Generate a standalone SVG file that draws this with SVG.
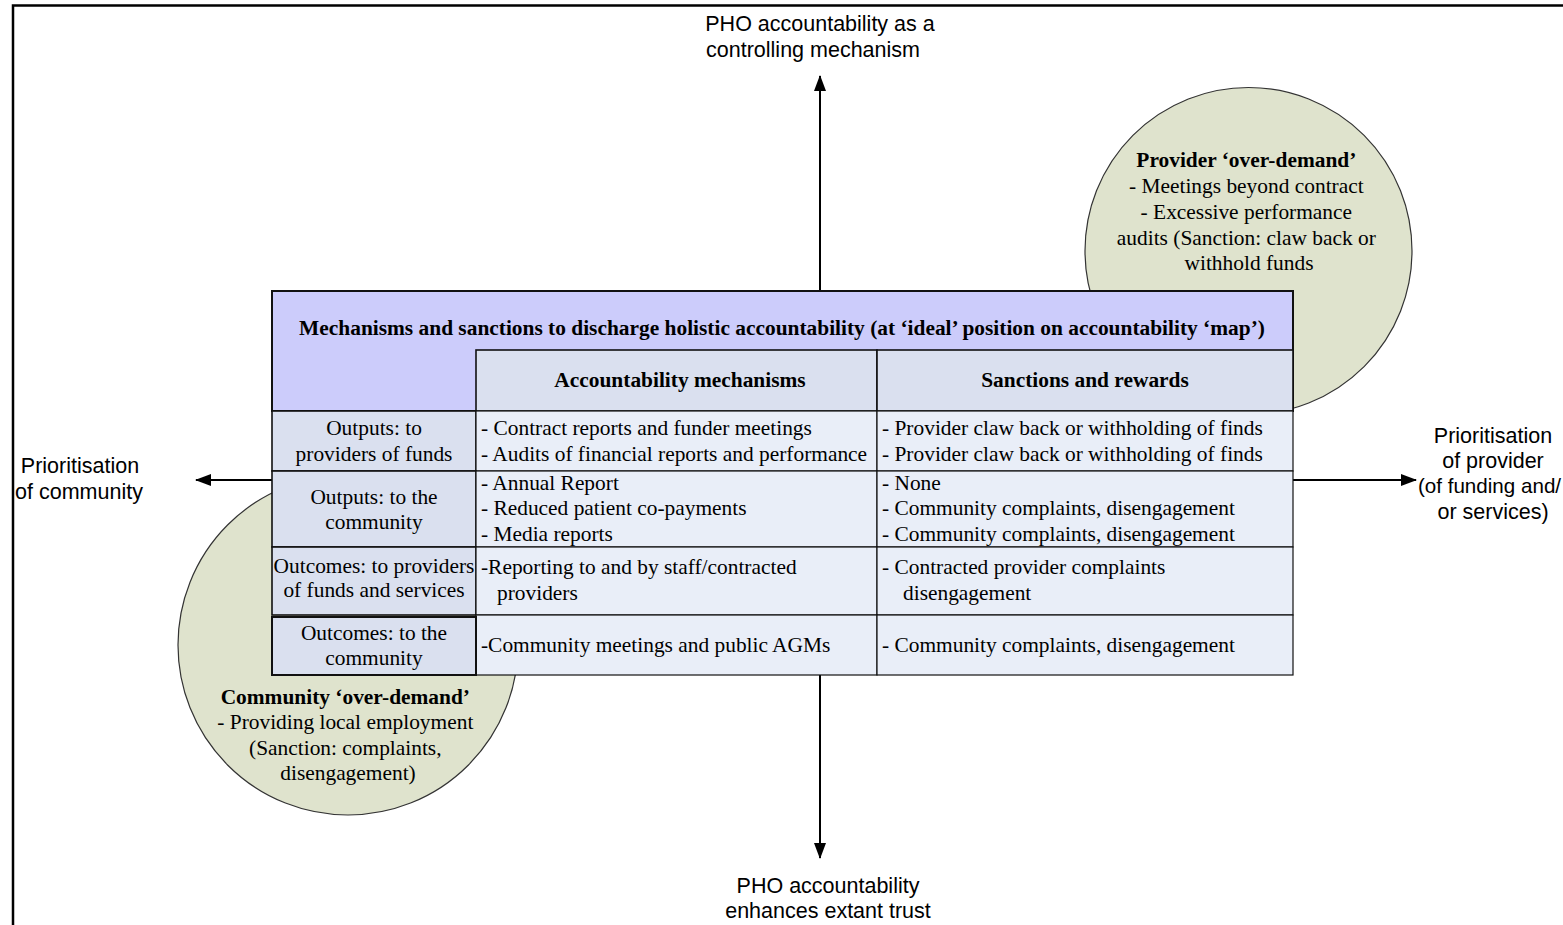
<svg xmlns="http://www.w3.org/2000/svg" width="1563" height="925" viewBox="0 0 1563 925">
  <defs>
    <marker id="arrow" viewBox="0 0 16 12" refX="15" refY="6" markerWidth="16" markerHeight="12" markerUnits="userSpaceOnUse" orient="auto">
      <path d="M0,0 L16,6 L0,12 Z" fill="#000"/>
    </marker>
    <style>
      .frame { fill: none; stroke: #000; stroke-width: 2.5; }
      .axis { fill: none; stroke: #000; stroke-width: 2; marker-end: url(#arrow); }
      .bubble { fill: #dfe3cd; stroke: #333; stroke-width: 1.2; }
      .title-cell { fill: #ccccfb; stroke: #111; stroke-width: 2; }
      .head-cell { fill: #dae0ef; stroke: #111; stroke-width: 1.6; }
      .data-cell { fill: #e9eef8; stroke: #111; stroke-width: 1.2; }
      .serif { font-family: "Liberation Serif", "Times New Roman", serif; font-size: 21.4px; fill: #000; }
      .bold { font-weight: bold; }
      .sans { font-family: "Liberation Sans", Arial, sans-serif; font-size: 21.5px; fill: #000; }
      .mid { text-anchor: middle; }
    </style>
  </defs>

  <rect width="1563" height="925" fill="#fff"/>
  <!-- outer frame, open to the right and bottom edges -->
  <path class="frame" d="M13,925 V5.5 H1563"/>

  <!-- axes of the accountability map -->
  <g id="connectors">
    <line class="axis" x1="820" y1="292" x2="820" y2="76"/>
    <line class="axis" x1="820" y1="675" x2="820" y2="858"/>
    <line class="axis" x1="272" y1="480" x2="196" y2="480"/>
    <line class="axis" x1="1293" y1="480" x2="1416" y2="480"/>
  </g>

  <g id="provider-over-demand">
    <circle class="bubble" cx="1248.5" cy="251" r="163.5"/>
    <text class="serif mid" x="1249">
      <tspan class="bold" x="1249" y="167">Provider ‘over-demand’</tspan>
      <tspan x="1249" y="193">- Meetings beyond contract</tspan>
      <tspan x="1249" y="219">- Excessive performance</tspan>
      <tspan x="1249" y="245">audits (Sanction: claw back or</tspan>
      <tspan x="1249" y="270">withhold funds</tspan>
    </text>
  </g>

  <g id="community-over-demand">
    <circle class="bubble" cx="348" cy="645" r="170"/>
    <text class="serif mid">
      <tspan class="bold" x="348" y="704">Community ‘over-demand’</tspan>
      <tspan x="348" y="729">- Providing local employment</tspan>
      <tspan x="348" y="755">(Sanction: complaints,</tspan>
      <tspan x="348" y="780">disengagement)</tspan>
    </text>
  </g>

  <g id="mechanisms-table">
    <!-- title band and empty corner -->
    <rect class="title-cell" x="272" y="291" width="1021" height="120"/>
    <text class="serif bold mid" x="782" y="335">Mechanisms and sanctions to discharge holistic accountability (at ‘ideal’ position on accountability ‘map’)</text>

    <!-- column headings -->
    <rect class="head-cell" x="476" y="350" width="401" height="61"/>
    <rect class="head-cell" x="877" y="350" width="416" height="61"/>
    <text class="serif bold mid" x="680" y="387">Accountability mechanisms</text>
    <text class="serif bold mid" x="1085" y="387">Sanctions and rewards</text>

    <!-- row 1 -->
    <rect class="head-cell" x="272" y="411" width="204" height="60"/>
    <rect class="data-cell" x="476" y="411" width="401" height="60"/>
    <rect class="data-cell" x="877" y="411" width="416" height="60"/>
    <text class="serif mid"><tspan x="374" y="435">Outputs: to</tspan><tspan x="374" y="461">providers of funds</tspan></text>
    <text class="serif"><tspan x="481" y="435">- Contract reports and funder meetings</tspan><tspan x="481" y="461">- Audits of financial reports and performance</tspan></text>
    <text class="serif"><tspan x="882" y="435">- Provider claw back or withholding of finds</tspan><tspan x="882" y="461">- Provider claw back or withholding of finds</tspan></text>

    <!-- row 2 -->
    <rect class="head-cell" x="272" y="471" width="204" height="76"/>
    <rect class="data-cell" x="476" y="471" width="401" height="76"/>
    <rect class="data-cell" x="877" y="471" width="416" height="76"/>
    <text class="serif mid"><tspan x="374" y="504">Outputs: to the</tspan><tspan x="374" y="529">community</tspan></text>
    <text class="serif"><tspan x="481" y="490">- Annual Report</tspan><tspan x="481" y="515">- Reduced patient co-payments</tspan><tspan x="481" y="541">- Media reports</tspan></text>
    <text class="serif"><tspan x="882" y="490">- None</tspan><tspan x="882" y="515">- Community complaints, disengagement</tspan><tspan x="882" y="541">- Community complaints, disengagement</tspan></text>

    <!-- row 3 -->
    <rect class="head-cell" x="272" y="547" width="204" height="68"/>
    <rect class="data-cell" x="476" y="547" width="401" height="68"/>
    <rect class="data-cell" x="877" y="547" width="416" height="68"/>
    <text class="serif mid"><tspan x="374" y="573">Outcomes: to providers</tspan><tspan x="374" y="597">of funds and services</tspan></text>
    <text class="serif"><tspan x="481" y="574">-Reporting to and by staff/contracted</tspan><tspan x="497" y="600">providers</tspan></text>
    <text class="serif"><tspan x="882" y="574">- Contracted provider complaints</tspan><tspan x="903" y="600">disengagement</tspan></text>

    <!-- row 4 -->
    <rect class="data-cell" x="476" y="615" width="401" height="60"/>
    <rect class="data-cell" x="877" y="615" width="416" height="60"/>
    <rect class="head-cell" x="272" y="617" width="204" height="58" style="stroke-width:2"/>
    <text class="serif mid"><tspan x="374" y="640">Outcomes: to the</tspan><tspan x="374" y="665">community</tspan></text>
    <text class="serif"><tspan x="481" y="652">-Community meetings and public AGMs</tspan></text>
    <text class="serif"><tspan x="882" y="652">- Community complaints, disengagement</tspan></text>
  </g>

  <g id="label-top">
    <text class="sans mid"><tspan x="820" y="31">PHO accountability as a</tspan><tspan x="813" y="57">controlling mechanism</tspan></text>
  </g>
  <g id="label-bottom">
    <text class="sans mid"><tspan x="828" y="893">PHO accountability</tspan><tspan x="828" y="918">enhances extant trust</tspan></text>
  </g>
  <g id="label-left">
    <text class="sans mid"><tspan x="80" y="473">Prioritisation</tspan><tspan x="79" y="499">of community</tspan></text>
  </g>
  <g id="label-right">
    <text class="sans mid"><tspan x="1493" y="443">Prioritisation</tspan><tspan x="1493" y="468">of provider</tspan><tspan x="1489.5" y="493" style="font-size:20.6px">(of funding and/</tspan><tspan x="1493" y="519">or services)</tspan></text>
  </g>
</svg>
